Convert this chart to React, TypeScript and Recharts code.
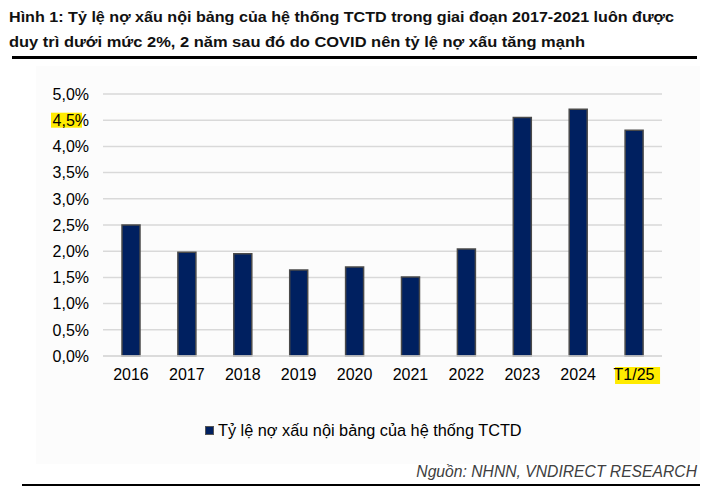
import React from 'react';
import { BarChart, Bar, XAxis, YAxis, CartesianGrid } from 'recharts';

const categories = ['2016', '2017', '2018', '2019', '2020', '2021', '2022', '2023', '2024', 'T1/25'];
const nplValues = [2.5, 1.98, 1.95, 1.64, 1.7, 1.51, 2.04, 4.55, 4.71, 4.31];
const yTicks = [0, 0.5, 1, 1.5, 2, 2.5, 3, 3.5, 4, 4.5, 5];
const seriesName = 'Tỷ lệ nợ xấu nội bảng của hệ thống TCTD';
const titleLine1 = 'Hình 1:  Tỷ lệ nợ xấu nội bảng của hệ thống TCTD trong giai đoạn 2017-2021 luôn được';
const titleLine2 = 'duy trì dưới mức 2%, 2 năm sau đó do COVID nên tỷ lệ nợ xấu tăng mạnh';
const sourceText = 'Nguồn: NHNN, VNDIRECT RESEARCH';
const highlightY = 4.5;
const highlightX = 'T1/25';

const data = categories.map((c, i) => ({ name: c, value: nplValues[i] }));

const FONT = "'Liberation Sans', Arial, sans-serif";

const fmt = (v: number) => v.toFixed(1).replace('.', ',') + '%';

const YTick = (props: any) => {
  const { x, y, payload } = props;
  const hl = payload.value === highlightY;
  return (
    <g>
      {hl && <rect x={x - 38} y={y - 7.5} width={31} height={15} fill="#ffeb00" />}
      <text x={x} y={y} dy="0.36em" textAnchor="end" fontSize={16} fontFamily={FONT} fill="#000">
        {fmt(payload.value)}
      </text>
    </g>
  );
};

const XTick = (props: any) => {
  const { x, y, payload } = props;
  const hl = payload.value === highlightX;
  return (
    <g>
      {hl && <rect x={x - 19} y={y - 1} width={45} height={17} fill="#ffeb00" />}
      <text x={x} y={y} dy="0.75em" textAnchor="middle" fontSize={16} fontFamily={FONT} fill="#000">
        {payload.value}
      </text>
    </g>
  );
};

export default function App() {
  return (
    <div style={{ position: 'absolute', left: 0, top: 0, width: 717, height: 493, background: '#fff', fontFamily: FONT }}>
      <svg width={717} height={62} style={{ position: 'absolute', left: 0, top: 0 }}>
        <text x={9} y={22} fontSize={15} fontWeight="bold" fontFamily={FONT} fill="#111" textLength={665} lengthAdjust="spacingAndGlyphs">
          {titleLine1}
        </text>
        <text x={9} y={47} fontSize={15} fontWeight="bold" fontFamily={FONT} fill="#111" textLength={576} lengthAdjust="spacingAndGlyphs">
          {titleLine2}
        </text>
        <rect x={12} y={56} width={685} height={3} fill="#000" />
      </svg>
      <div style={{ position: 'absolute', left: 36, top: 66, width: 664, height: 398, background: '#fcfcfc' }} />
      <div style={{ position: 'absolute', left: 0, top: 60 }}>
        <BarChart width={717} height={340} data={data} margin={{ top: 34, right: 55, left: 0, bottom: 0 }}>
          <CartesianGrid vertical={false} stroke="#d9d9d9" strokeWidth={1.5} />
          <XAxis
            dataKey="name"
            height={44}
            axisLine={{ stroke: '#d9d9d9', strokeWidth: 1.5 }}
            tickLine={false}
            tickSize={0}
            tickMargin={12}
            tick={<XTick />}
            interval={0}
          />
          <YAxis
            width={103}
            domain={[0, 5]}
            ticks={yTicks}
            axisLine={false}
            tickLine={false}
            tickSize={0}
            tickMargin={14}
            tick={<YTick />}
            interval={0}
          />
          <Bar dataKey="value" name={seriesName} barSize={18} fill="#002060" stroke="#4a4a4a" strokeWidth={1.5} isAnimationActive={false} />
        </BarChart>
      </div>
      <div style={{ position: 'absolute', left: 205, top: 421, display: 'flex', alignItems: 'center', whiteSpace: 'nowrap' }}>
        <div style={{ width: 7, height: 7, background: '#002060', border: '1px solid #555', marginRight: 4 }} />
        <span style={{ fontSize: 16.3, color: '#000' }}>{seriesName}</span>
      </div>
      <div style={{ position: 'absolute', right: 20, top: 463, fontSize: 15.7, fontStyle: 'italic', color: '#404040', whiteSpace: 'nowrap' }}>
        {sourceText}
      </div>
      <div style={{ position: 'absolute', left: 22, top: 484, width: 678, height: 2, background: '#000' }} />
    </div>
  );
}
